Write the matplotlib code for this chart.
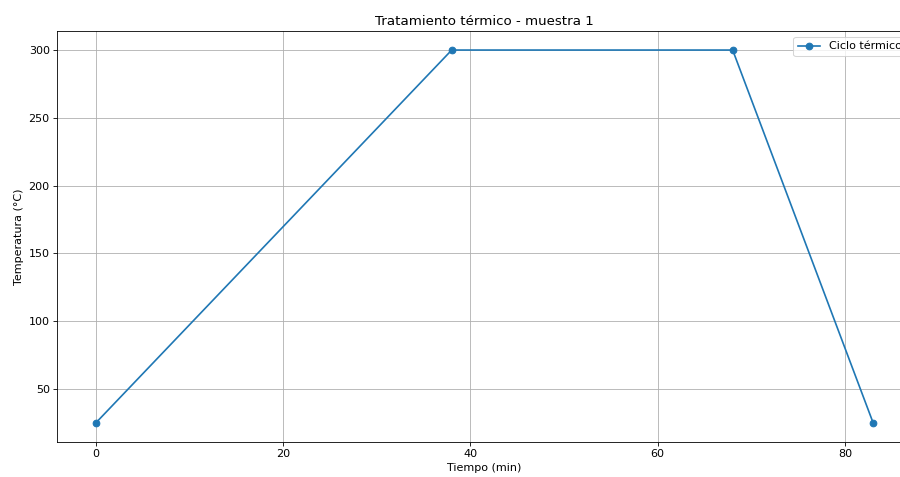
import matplotlib
matplotlib.use("Agg")
import matplotlib.pyplot as plt

# ciclo termico de la muestra 1
tiempo = [0, 38, 68, 83]
temperatura = [25, 300, 300, 25]

# reference looks like a slightly downscaled screenshot, bump sizes a bit
plt.rcParams["font.size"] = 10.7
plt.rcParams["axes.titlesize"] = 12.8

fig = plt.figure(figsize=(12, 6.36), dpi=75)
# the original image is cut on the right, so the axes run past the edge
ax = fig.add_axes([57 / 900, 1 - 441.5 / 477, (912 - 57) / 900, (441.5 - 31.4) / 477])

ax.plot(tiempo, temperatura, marker="o", markersize=6.4, linewidth=1.6,
        color="#1f77b4", label="Ciclo térmico")
ax.set_title("Tratamiento térmico - muestra 1")
ax.set_xlabel("Tiempo (min)")
ax.set_ylabel("Temperatura (°C)")
ax.grid(True)
ax.legend(loc="upper right")

fig.savefig("out.png", dpi=75)
